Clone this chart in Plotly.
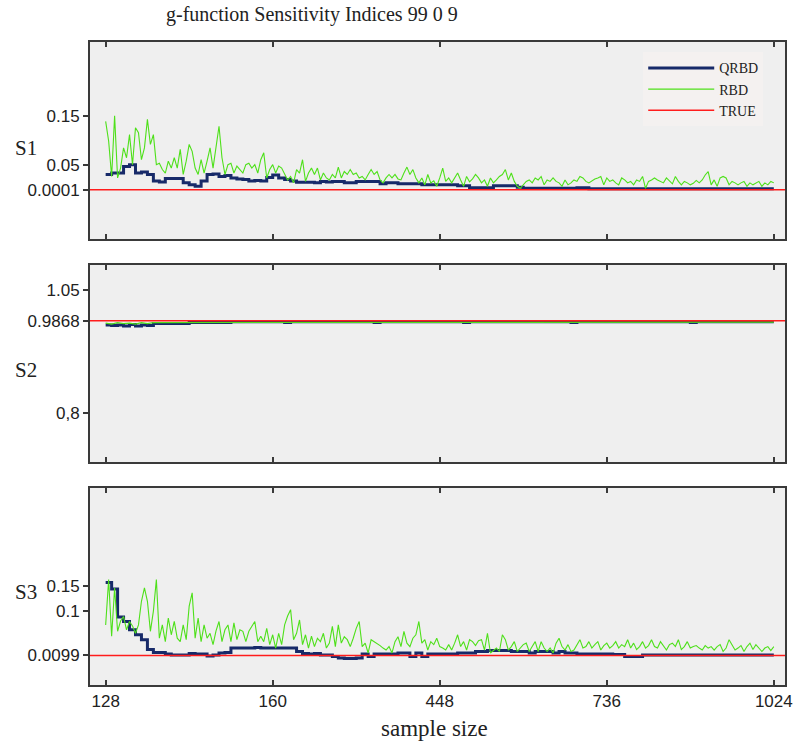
import plotly.graph_objects as go
from plotly.subplots import make_subplots

# sample grids (x) and the odd tick labels of the original figure
SAMPLE_SIZE = list(range(128, 1025, 8))   # QRBD grid
RBD_SIZE = list(range(128, 1025, 4))      # RBD grid (denser)
X_RANGE = [107, 1039]
X_TICKS = [128, 352, 576, 800, 1024]
X_TICK_TEXT = ["128", "160", "448", "736", "1024"]

# ---- S1 ----
S1_TRUE = 0.0001
S1_QRBD = [
    0.031, 0.034, 0.034, 0.047, 0.051, 0.034, 0.036, 0.031, 0.018, 0.016,
    0.023, 0.023, 0.023, 0.014, 0.010, 0.007, 0.018, 0.031, 0.032, 0.027,
    0.029, 0.024, 0.022, 0.021, 0.018, 0.019, 0.018, 0.025, 0.030, 0.024,
    0.021, 0.018, 0.015, 0.015, 0.015, 0.014, 0.017, 0.016, 0.017, 0.017,
    0.014, 0.014, 0.017, 0.017, 0.017, 0.017, 0.012, 0.014, 0.014, 0.012,
    0.012, 0.012, 0.012, 0.010, 0.010, 0.010, 0.010, 0.010, 0.010, 0.008,
    0.008, 0.004, 0.004, 0.004, 0.004, 0.008, 0.008, 0.008, 0.008, 0.005,
    0.003, 0.003, 0.003, 0.003, 0.003, 0.003, 0.003, 0.003, 0.003, 0.004,
    0.004, 0.002, 0.002, 0.002, 0.002, 0.002, 0.002, 0.002, 0.002, 0.002,
    0.002, 0.002, 0.002, 0.002, 0.002, 0.002, 0.002, 0.002, 0.002, 0.002,
    0.002, 0.002, 0.002, 0.002, 0.002, 0.002, 0.002, 0.002, 0.002, 0.002,
    0.002, 0.002, 0.002,
]
S1_RBD = [
    0.139, 0.099, 0.027, 0.150, 0.024, 0.044, 0.085, 0.065, 0.112, 0.051,
    0.126, 0.116, 0.061, 0.085, 0.143, 0.092, 0.112, 0.051, 0.054, 0.041,
    0.034, 0.058, 0.044, 0.065, 0.044, 0.082, 0.031, 0.058, 0.092, 0.078,
    0.044, 0.031, 0.061, 0.034, 0.058, 0.085, 0.044, 0.092, 0.129, 0.065,
    0.031, 0.051, 0.054, 0.034, 0.048, 0.041, 0.034, 0.051, 0.054, 0.044,
    0.051, 0.034, 0.061, 0.075, 0.024, 0.041, 0.051, 0.034, 0.048, 0.044,
    0.031, 0.020, 0.027, 0.014, 0.041, 0.034, 0.061, 0.017, 0.034, 0.044,
    0.031, 0.044, 0.020, 0.034, 0.024, 0.020, 0.031, 0.024, 0.046, 0.024,
    0.037, 0.031, 0.041, 0.031, 0.034, 0.024, 0.027, 0.020, 0.031, 0.041,
    0.031, 0.037, 0.020, 0.014, 0.024, 0.031, 0.024, 0.031, 0.022, 0.020,
    0.034, 0.046, 0.031, 0.041, 0.024, 0.014, 0.024, 0.010, 0.031, 0.014,
    0.018, 0.007, 0.024, 0.044, 0.017, 0.024, 0.014, 0.024, 0.034, 0.020,
    0.007, 0.027, 0.016, 0.022, 0.031, 0.024, 0.014, 0.020, 0.007, 0.024,
    0.014, 0.020, 0.027, 0.031, 0.041, 0.020, 0.034, 0.017, 0.007, 0.003,
    0.010, 0.017, 0.020, 0.014, 0.024, 0.020, 0.027, 0.010, 0.020, 0.017,
    0.024, 0.017, 0.014, 0.007, 0.020, 0.010, 0.014, 0.020, 0.017, 0.027,
    0.024, 0.017, 0.014, 0.018, 0.022, 0.024, 0.027, 0.010, 0.024, 0.017,
    0.020, 0.014, 0.010, 0.024, 0.020, 0.014, 0.017, 0.010, 0.020, 0.017,
    0.027, 0.003, 0.017, 0.020, 0.024, 0.020, 0.017, 0.014, 0.024, 0.017,
    0.012, 0.027, 0.017, 0.010, 0.017, 0.014, 0.010, 0.013, 0.019, 0.014,
    0.020, 0.030, 0.037, 0.010, 0.020, 0.007, 0.024, 0.027, 0.024, 0.010,
    0.017, 0.014, 0.010, 0.014, 0.017, 0.007, 0.014, 0.010, 0.014, 0.017,
    0.007, 0.014, 0.010, 0.017, 0.014,
]

# ---- S2 ----
S2_TRUE = 0.9868
S2_QRBD = [
    0.978, 0.977, 0.978, 0.976, 0.979, 0.976, 0.978, 0.977, 0.981, 0.981,
    0.981, 0.981, 0.981, 0.981, 0.983, 0.983, 0.983, 0.983, 0.983, 0.983,
    0.983, 0.985, 0.985, 0.985, 0.985, 0.985, 0.985, 0.985, 0.985, 0.985,
    0.983, 0.985, 0.985, 0.985, 0.985, 0.985, 0.985, 0.985, 0.985, 0.985,
    0.985, 0.985, 0.985, 0.985, 0.985, 0.983, 0.985, 0.985, 0.985, 0.985,
    0.985, 0.985, 0.985, 0.985, 0.985, 0.985, 0.985, 0.985, 0.985, 0.985,
    0.983, 0.985, 0.985, 0.985, 0.985, 0.985, 0.985, 0.985, 0.985, 0.985,
    0.985, 0.985, 0.985, 0.985, 0.985, 0.985, 0.985, 0.985, 0.983, 0.985,
    0.985, 0.985, 0.985, 0.985, 0.985, 0.985, 0.985, 0.985, 0.985, 0.985,
    0.985, 0.985, 0.985, 0.985, 0.985, 0.985, 0.985, 0.985, 0.983, 0.985,
    0.985, 0.985, 0.985, 0.985, 0.985, 0.985, 0.985, 0.985, 0.985, 0.985,
    0.985, 0.985, 0.985,
]
S2_RBD = [
    0.982, 0.980, 0.983, 0.981, 0.982, 0.980, 0.983, 0.981, 0.983, 0.983,
    0.983, 0.983, 0.983, 0.983, 0.983, 0.983, 0.983, 0.983, 0.983, 0.983,
    0.983, 0.984, 0.984, 0.984, 0.984, 0.984, 0.984, 0.984, 0.984, 0.984,
    0.984, 0.984, 0.984, 0.984, 0.984, 0.984, 0.984, 0.984, 0.984, 0.984,
    0.984, 0.984, 0.984, 0.984, 0.984, 0.984, 0.984, 0.984, 0.984, 0.984,
    0.984, 0.984, 0.984, 0.984, 0.984, 0.984, 0.984, 0.984, 0.984, 0.984,
    0.984, 0.984, 0.984, 0.984, 0.984, 0.984, 0.984, 0.984, 0.984, 0.984,
    0.984, 0.984, 0.984, 0.984, 0.984, 0.984, 0.984, 0.984, 0.984, 0.984,
    0.984, 0.984, 0.984, 0.984, 0.984, 0.984, 0.984, 0.984, 0.984, 0.984,
    0.984, 0.984, 0.984, 0.984, 0.984, 0.984, 0.984, 0.984, 0.984, 0.984,
    0.984, 0.984, 0.984, 0.984, 0.984, 0.984, 0.984, 0.984, 0.984, 0.984,
    0.984, 0.984, 0.984,
]

# ---- S3 ----
S3_TRUE = 0.0099
S3_QRBD = [
    0.158, 0.145, 0.088, 0.079, 0.062, 0.052, 0.042, 0.022, 0.016, 0.016,
    0.013, 0.011, 0.011, 0.011, 0.014, 0.013, 0.013, 0.009, 0.011, 0.015,
    0.016, 0.025, 0.025, 0.025, 0.025, 0.026, 0.025, 0.025, 0.025, 0.025,
    0.025, 0.025, 0.018, 0.014, 0.013, 0.014, 0.011, 0.011, 0.008, 0.005,
    0.004, 0.004, 0.005, 0.013, 0.008, 0.013, 0.013, 0.013, 0.013, 0.015,
    0.015, 0.008, 0.015, 0.008, 0.013, 0.013, 0.013, 0.013, 0.013, 0.015,
    0.015, 0.015, 0.018, 0.018, 0.020, 0.020, 0.020, 0.020, 0.018, 0.018,
    0.018, 0.015, 0.018, 0.018, 0.018, 0.015, 0.018, 0.015, 0.015, 0.013,
    0.013, 0.013, 0.013, 0.013, 0.013, 0.012, 0.012, 0.008, 0.008, 0.008,
    0.011, 0.011, 0.011, 0.011, 0.011, 0.011, 0.011, 0.011, 0.011, 0.011,
    0.011, 0.011, 0.011, 0.011, 0.011, 0.011, 0.011, 0.011, 0.011, 0.011,
    0.011, 0.011, 0.011,
]
S3_RBD = [
    0.072, 0.164, 0.049, 0.147, 0.059, 0.080, 0.089, 0.062, 0.079, 0.070,
    0.055, 0.072, 0.120, 0.147, 0.120, 0.059, 0.100, 0.164, 0.045, 0.072,
    0.038, 0.086, 0.052, 0.079, 0.045, 0.038, 0.072, 0.042, 0.110, 0.137,
    0.045, 0.086, 0.038, 0.072, 0.045, 0.055, 0.032, 0.060, 0.079, 0.038,
    0.062, 0.072, 0.038, 0.076, 0.042, 0.062, 0.059, 0.038, 0.059, 0.070,
    0.079, 0.038, 0.049, 0.038, 0.065, 0.032, 0.052, 0.025, 0.055, 0.032,
    0.072, 0.090, 0.103, 0.042, 0.055, 0.082, 0.032, 0.052, 0.025, 0.049,
    0.028, 0.045, 0.038, 0.055, 0.025, 0.035, 0.069, 0.028, 0.072, 0.035,
    0.048, 0.042, 0.028, 0.045, 0.065, 0.079, 0.028, 0.035, 0.015, 0.042,
    0.038, 0.035, 0.030, 0.025, 0.021, 0.028, 0.015, 0.038, 0.048, 0.028,
    0.059, 0.035, 0.028, 0.045, 0.052, 0.079, 0.035, 0.042, 0.021, 0.038,
    0.032, 0.045, 0.028, 0.025, 0.021, 0.032, 0.021, 0.035, 0.052, 0.028,
    0.038, 0.021, 0.042, 0.038, 0.030, 0.040, 0.042, 0.021, 0.055, 0.015,
    0.021, 0.025, 0.018, 0.052, 0.042, 0.021, 0.028, 0.038, 0.018, 0.025,
    0.032, 0.035, 0.018, 0.028, 0.038, 0.018, 0.038, 0.025, 0.018, 0.025,
    0.015, 0.035, 0.045, 0.028, 0.021, 0.032, 0.018, 0.021, 0.032, 0.042,
    0.025, 0.028, 0.038, 0.025, 0.032, 0.038, 0.021, 0.030, 0.035, 0.025,
    0.030, 0.038, 0.025, 0.032, 0.028, 0.042, 0.025, 0.035, 0.022, 0.028,
    0.038, 0.025, 0.030, 0.042, 0.028, 0.025, 0.038, 0.030, 0.021, 0.032,
    0.035, 0.028, 0.042, 0.022, 0.028, 0.038, 0.025, 0.028, 0.030, 0.025,
    0.021, 0.030, 0.025, 0.028, 0.021, 0.028, 0.032, 0.018, 0.025, 0.042,
    0.030, 0.021, 0.025, 0.030, 0.018, 0.028, 0.035, 0.022, 0.032, 0.025,
    0.018, 0.025, 0.028, 0.020, 0.028,
]

PANELS = [
    (S1_QRBD, SAMPLE_SIZE, S1_RBD, RBD_SIZE, S1_TRUE, [-0.1, 0.3],
     [0.15, 0.05, 0.0001], ["0.15", "0.05", "0.0001"]),
    (S2_QRBD, SAMPLE_SIZE, S2_RBD, SAMPLE_SIZE, S2_TRUE, [0.7, 1.1],
     [1.05, 0.9868, 0.8], ["1.05", "0.9868", "0,8"]),
    (S3_QRBD, SAMPLE_SIZE, S3_RBD, RBD_SIZE, S3_TRUE, [-0.05, 0.35],
     [0.15, 0.1, 0.0099], ["0.15", "0.1", "0.0099"]),
]

NAVY = "#172a69"
GREEN = "#4ee01a"
RED = "#ff1c1c"
AXIS = "#3a3a3a"
TICK_FONT = {"family": "Liberation Sans", "size": 17, "color": "#222"}
SERIF = "Liberation Serif"

fig = make_subplots(rows=3, cols=1, vertical_spacing=0.0404)

for row, panel in enumerate(PANELS, 1):
    qrbd, qx, rbd, rx, true, yrange, yticks, ytext = panel
    first = row == 1
    fig.add_trace(
        go.Scatter(x=qx, y=qrbd, name="QRBD", mode="lines",
                   line={"color": NAVY, "width": 3, "shape": "hv"},
                   showlegend=first),
        row=row, col=1,
    )
    fig.add_trace(
        go.Scatter(x=rx, y=rbd, name="RBD", mode="lines",
                   line={"color": GREEN, "width": 1.1},
                   showlegend=first),
        row=row, col=1,
    )
    fig.add_trace(
        go.Scatter(x=X_RANGE, y=[true, true], name="TRUE", mode="lines",
                   line={"color": RED, "width": 1.5},
                   showlegend=first),
        row=row, col=1,
    )
    fig.update_xaxes(
        range=X_RANGE, tickvals=X_TICKS, ticktext=X_TICK_TEXT,
        ticks="inside", ticklen=5, tickwidth=1.5, tickcolor=AXIS,
        showline=True, linecolor=AXIS, linewidth=2, mirror="ticks",
        showgrid=False, zeroline=False, showticklabels=row == 3,
        tickfont=TICK_FONT, row=row, col=1,
    )
    fig.update_yaxes(
        range=yrange, tickvals=yticks, ticktext=ytext,
        ticks="outside", ticklen=5, tickwidth=1.5, tickcolor=AXIS,
        showline=True, linecolor=AXIS, linewidth=2, mirror=True,
        showgrid=False, zeroline=False, tickfont=TICK_FONT,
        row=row, col=1,
    )
    # inward ticks on the right-hand frame
    suffix = "" if row == 1 else str(row)
    fig.update_layout({
        f"yaxis{row + 3}": dict(
            overlaying=f"y{suffix}", anchor=f"x{suffix}", side="right",
            range=yrange, tickvals=yticks, ticks="inside", ticklen=5,
            tickwidth=1.5, tickcolor=AXIS, showticklabels=False,
            showline=False, showgrid=False, zeroline=False,
        )
    })

side_labels = [("S1", 0.835), ("S2", 0.490), ("S3", 0.145)]
for text, ypos in side_labels:
    fig.add_annotation(
        text=text, x=-0.0925, y=ypos, xref="paper", yref="paper",
        showarrow=False, xanchor="center", yanchor="middle",
        font={"family": SERIF, "size": 21, "color": "#222"},
    )

fig.add_annotation(
    text="g-function Sensitivity Indices 99 0 9", x=0.32, y=1.042,
    xref="paper", yref="paper", showarrow=False,
    xanchor="center", yanchor="middle",
    font={"family": SERIF, "size": 20, "color": "#222"},
)
fig.add_annotation(
    text="sample size", x=0.495, y=-0.067, xref="paper", yref="paper",
    showarrow=False, xanchor="center", yanchor="middle",
    font={"family": SERIF, "size": 23, "color": "#222"},
)

fig.update_layout(
    width=804,
    height=742,
    autosize=False,
    margin={"l": 90, "r": 11, "t": 42, "b": 57},
    paper_bgcolor="white",
    plot_bgcolor="#efefef",
    legend=dict(
        x=0.796, y=0.984, xanchor="left", yanchor="top",
        bgcolor="#f4f1f0", itemwidth=66,
        font={"family": SERIF, "size": 14, "color": "#222"},
    ),
)

# drop the browser's default 8px body margin so the figure sits at 0,0
fig.write_html(
    "out.html",
    config={"displayModeBar": False},
    post_script="document.body.style.margin='0';",
)
